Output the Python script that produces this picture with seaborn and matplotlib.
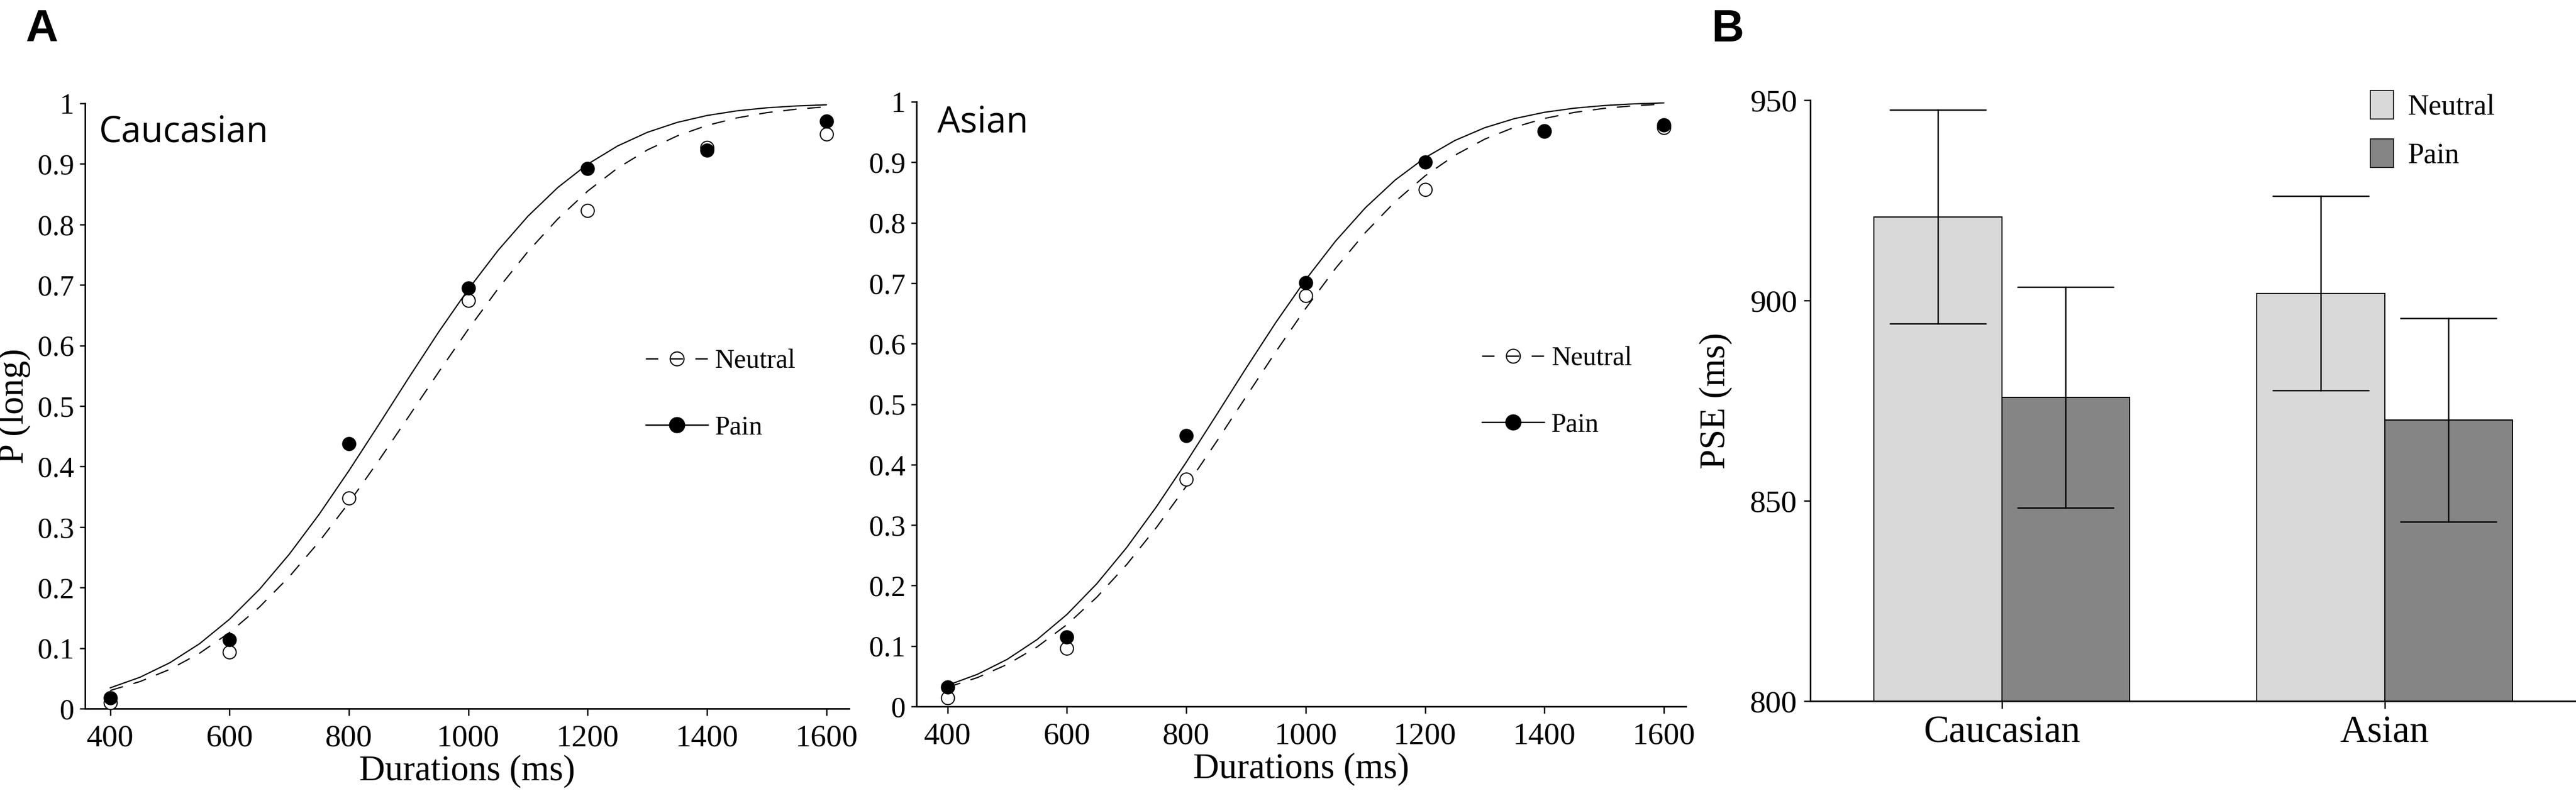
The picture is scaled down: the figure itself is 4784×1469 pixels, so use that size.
"""
plot.py
-------
Psychometric curves (P(long) vs duration) for Caucasian and Asian faces,
plus PSE bar chart (Neutral vs Pain).
Run: python plot.py  ->  out.png
"""

import numpy as np
import pandas as pd
import matplotlib
matplotlib.use("Agg")
import matplotlib.pyplot as plt
from matplotlib.lines import Line2D
from matplotlib.patches import Patch
import seaborn as sns

# ─── DATA ─────────────────────────────────────────────────────────────────────
durations = [400, 600, 800, 1000, 1200, 1400, 1600]

cau_neutral = [0.010, 0.093, 0.348, 0.674, 0.823, 0.927, 0.949]
cau_pain    = [0.018, 0.114, 0.438, 0.695, 0.892, 0.923, 0.971]
asi_neutral = [0.014, 0.096, 0.376, 0.679, 0.855, 0.951, 0.957]
asi_pain    = [0.032, 0.115, 0.448, 0.701, 0.900, 0.952, 0.962]

# fitted curves, every 50 ms
fit_x = [400, 450, 500, 550, 600, 650, 700, 750, 800, 850, 900, 950, 1000,
         1050, 1100, 1150, 1200, 1250, 1300, 1350, 1400, 1450, 1500, 1550, 1600]
cau_neutral_fit = [0.0299, 0.0447, 0.0649, 0.0916, 0.1257, 0.1677, 0.2179,
                   0.2757, 0.3402, 0.4099, 0.4824, 0.5556, 0.6268, 0.6940,
                   0.7553, 0.8092, 0.8551, 0.8930, 0.9231, 0.9463, 0.9636,
                   0.9760, 0.9847, 0.9905, 0.9943]
cau_pain_fit    = [0.0343, 0.0518, 0.0758, 0.1074, 0.1477, 0.1969, 0.2550,
                   0.3209, 0.3931, 0.4691, 0.5463, 0.6218, 0.6928, 0.7573,
                   0.8137, 0.8611, 0.8996, 0.9296, 0.9522, 0.9686, 0.9800,
                   0.9877, 0.9927, 0.9958, 0.9977]
asi_neutral_fit = [0.0317, 0.0477, 0.0695, 0.0984, 0.1353, 0.1806, 0.2344,
                   0.2960, 0.3642, 0.4370, 0.5120, 0.5866, 0.6582, 0.7244,
                   0.7837, 0.8349, 0.8774, 0.9116, 0.9382, 0.9580, 0.9724,
                   0.9824, 0.9891, 0.9935, 0.9962]
asi_pain_fit    = [0.0350, 0.0531, 0.0779, 0.1106, 0.1521, 0.2029, 0.2626,
                   0.3303, 0.4040, 0.4812, 0.5592, 0.6350, 0.7058, 0.7695,
                   0.8247, 0.8706, 0.9075, 0.9360, 0.9571, 0.9722, 0.9826,
                   0.9894, 0.9938, 0.9965, 0.9981]

groups     = ["Caucasian", "Asian"]
conditions = ["Neutral", "Pain"]
pse_neutral = [920.9, 901.8]
pse_pain    = [875.8, 870.2]
err_neutral = [26.7, 24.3]
err_pain    = [27.6, 25.4]

dur_ticks     = [400, 600, 800, 1000, 1200, 1400, 1600]
p_ticks       = [0, 0.1, 0.2, 0.3, 0.4, 0.5, 0.6, 0.7, 0.8, 0.9, 1]
p_tick_labels = ["0", "0.1", "0.2", "0.3", "0.4", "0.5", "0.6", "0.7", "0.8", "0.9", "1"]
pse_ticks     = [800, 850, 900, 950]

# ─── STYLE ────────────────────────────────────────────────────────────────────
NEUTRAL_C = "#d9d9d9"
PAIN_C    = "#858585"
LW        = 0.55
DASH      = (0, (10.9, 8.7))

sns.set_theme(style="ticks")
plt.rcParams.update({
    "font.family":      "Liberation Serif",
    "axes.linewidth":   0.7,
    "axes.edgecolor":   "black",
    "xtick.color":      "black",
    "ytick.color":      "black",
    "text.color":       "black",
    "axes.labelcolor":  "black",
})

W, H = 4784, 1469
fig = plt.figure(figsize=(W / 300, H / 300), dpi=300)


def rect(x0, x1, y_bottom, y_top):
    """pixel box -> figure fraction [left, bottom, width, height]"""
    return [x0 / W, 1 - y_bottom / H, (x1 - x0) / W, (y_bottom - y_top) / H]


ax_cau = fig.add_axes(rect(158, 1577, 1316, 192))
ax_asi = fig.add_axes(rect(1702, 3131, 1312, 189))
ax_pse = fig.add_axes(rect(3362, 4784, 1302, 186))


# ─── A: PSYCHOMETRIC CURVES ───────────────────────────────────────────────────
def psych_panel(ax, neutral_pts, pain_pts, neutral_fit, pain_fit,
                name, name_xy, leg_xy, xlim):
    sns.lineplot(x=fit_x, y=neutral_fit, ax=ax, color="black",
                 linewidth=LW, linestyle=DASH)
    sns.lineplot(x=fit_x, y=pain_fit, ax=ax, color="black", linewidth=LW)
    sns.scatterplot(x=durations, y=neutral_pts, ax=ax, s=34, color="white",
                    edgecolor="black", linewidth=0.5, zorder=3, clip_on=False)
    sns.scatterplot(x=durations, y=pain_pts, ax=ax, s=34, color="black",
                    edgecolor="black", linewidth=0.5, zorder=4, clip_on=False)

    ax.set_xlim(*xlim)
    ax.set_ylim(0, 1)
    ax.set_xticks(dur_ticks)
    ax.set_yticks(p_ticks, labels=p_tick_labels)
    ax.tick_params(axis="x", direction="out", length=3, width=0.6,
                   labelsize=14, pad=4)
    ax.tick_params(axis="y", direction="out", length=2.4, width=0.6,
                   labelsize=13, pad=2.5)
    ax.set_xlabel("Durations (ms)", fontsize=16, labelpad=1)
    sns.despine(ax=ax)

    ax.text(name_xy[0], name_xy[1], name, transform=ax.transAxes,
            family="Open Sans", fontsize=16, va="baseline", ha="left")

    handles = [
        Line2D([], [], color="black", linewidth=0.6, linestyle=(0, (9.2, 9.2)),
               marker="o", markersize=6.2, markerfacecolor="none",
               markeredgecolor="black", markeredgewidth=0.5),
        Line2D([], [], color="black", linewidth=0.6, marker="o", markersize=6.2,
               markerfacecolor="black", markeredgecolor="black"),
    ]
    ax.legend(handles, conditions, loc="upper left", bbox_to_anchor=leg_xy,
              frameon=False, fontsize=12, handlelength=2.32,
              handletextpad=0.26, labelspacing=1.53, borderpad=0,
              borderaxespad=0)


psych_panel(ax_cau, cau_neutral, cau_pain, cau_neutral_fit, cau_pain_fit,
            "Caucasian", (0.018, 0.936), (0.7336, 0.594), (358, 1638))
ax_cau.set_ylabel("P (long)", fontsize=16, labelpad=3)

psych_panel(ax_asi, asi_neutral, asi_pain, asi_neutral_fit, asi_pain_fit,
            "Asian", (0.027, 0.950), (0.7348, 0.596), (348, 1637))
ax_asi.set_ylabel("")

# ─── B: PSE BARS ──────────────────────────────────────────────────────────────
rows = []
for g, mn, mp, en, ep in zip(groups, pse_neutral, pse_pain, err_neutral, err_pain):
    rows += [(g, "Neutral", mn - en), (g, "Neutral", mn + en),
             (g, "Pain", mp - ep), (g, "Pain", mp + ep)]
pse_df = pd.DataFrame(rows, columns=["group", "condition", "pse"])

palette = {"Neutral": NEUTRAL_C, "Pain": PAIN_C}
sns.barplot(data=pse_df, x="group", y="pse", hue="condition",
            order=groups, hue_order=conditions, palette=palette,
            errorbar=lambda v: (v.min(), v.max()), capsize=0.5,
            width=0.667, gap=0, edgecolor="black", linewidth=0.5,
            err_kws={"color": "black", "linewidth": 0.6},
            legend=False, ax=ax_pse)
ax_pse.set_xlim(-0.5, 1.5)
ax_pse.set_ylim(800, 950)
ax_pse.set_yticks(pse_ticks)
ax_pse.tick_params(axis="x", direction="out", length=3.4, width=0.6,
                   labelsize=17, pad=3)
ax_pse.tick_params(axis="y", direction="out", length=2.8, width=0.6,
                   labelsize=14, pad=3)
ax_pse.set_xlabel("")
ax_pse.set_ylabel("PSE (ms)", fontsize=16, labelpad=8)
sns.despine(ax=ax_pse)

bar_handles = [Patch(facecolor=palette[c], edgecolor="#222222", linewidth=0.5)
               for c in conditions]
ax_pse.legend(bar_handles, conditions, loc="upper left",
              bbox_to_anchor=(0.7314, 1.016), frameon=False, fontsize=13,
              handlelength=0.8, handleheight=1.13, handletextpad=0.48,
              labelspacing=0.61, borderpad=0, borderaxespad=0)

# ─── PANEL LETTERS ────────────────────────────────────────────────────────────
fig.text(48 / W, 1 - 77 / H, "A", family="Liberation Sans", weight="bold",
         fontsize=20, va="baseline")
fig.text(3178 / W, 1 - 77 / H, "B", family="Liberation Sans", weight="bold",
         fontsize=20, va="baseline")

fig.savefig("out.png", dpi=300)
plt.close(fig)
